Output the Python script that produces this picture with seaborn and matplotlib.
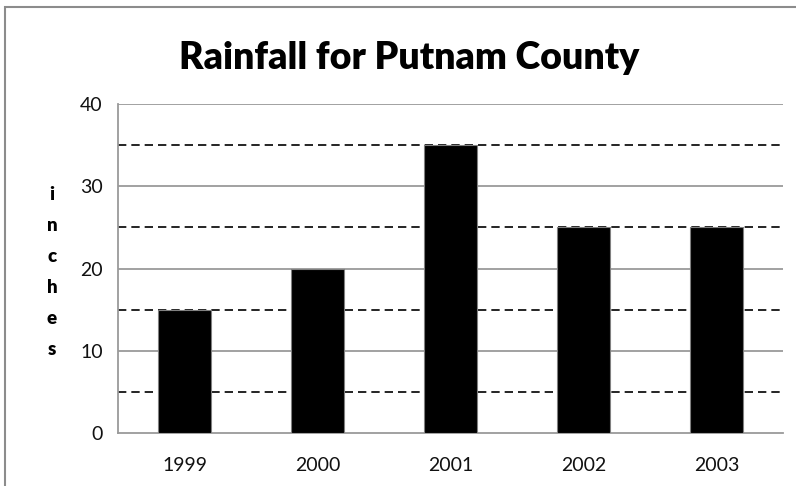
import matplotlib
matplotlib.use("Agg")
import matplotlib.pyplot as plt
import seaborn as sns
import pandas as pd
from matplotlib.patches import Rectangle

years = ["1999", "2000", "2001", "2002", "2003"]
rainfall = [15, 20, 35, 25, 25]
y_major = [0, 10, 20, 30, 40]
y_minor = [5, 15, 25, 35]
title = "Rainfall for Putnam County"
ylabel = "inches"

sns.set_style("white")
plt.rcParams['font.family'] = ['Lato', 'DejaVu Sans']

df = pd.DataFrame({"year": years, "rain": rainfall})

fig = plt.figure(figsize=(7.96, 4.86), dpi=100)
ax = fig.add_axes([118/796, 1-433/486, (783-118)/796, (433-104)/486])

sns.barplot(data=df, x="year", y="rain", color="black", width=0.4,
            edgecolor="#808080", linewidth=0.8, saturation=1, ax=ax, zorder=3)

ax.set_xlim(-0.5, len(years)-0.5)
ax.set_ylim(0, 40)

grid_c = "#9a9a9a"
for v in y_major[1:]:
    ax.axhline(v, color=grid_c, lw=1.3, zorder=1)
for v in y_minor:
    ax.axhline(v, color="black", lw=1.2, ls=(0, (5, 3)), zorder=1)

for s in ["top", "right"]:
    ax.spines[s].set_visible(False)
for s in ["left", "bottom"]:
    ax.spines[s].set_color(grid_c)
    ax.spines[s].set_linewidth(1.3)

ax.set_yticks(y_major)
ax.set_yticks(y_minor, minor=True)
ax.tick_params(axis="y", which="major", direction="out", length=6, width=1.2,
               color=grid_c, labelsize=14, pad=5, labelcolor="#111111")
ax.tick_params(axis="y", which="minor", direction="in", length=4, width=1.2,
               color=grid_c)

bounds = [i - 0.5 for i in range(len(years)+1)]
ax.set_xticks(bounds)
ax.set_xticklabels([])
ax.set_xticks(range(len(years)), minor=True)
ax.set_xticklabels(years, minor=True)
ax.tick_params(axis="x", which="major", direction="out", length=6, width=1.2, color=grid_c)
ax.tick_params(axis="x", which="minor", length=0, labelsize=14, pad=17, labelcolor="#111111")
ax.set_xlabel("")
ax.set_ylabel("")

fig.text(409/796, 1-58/486, title, ha="center", va="center",
         fontsize=27, fontweight="heavy", color="black")
fig.text(52/796, 1-272/486, "\n".join(ylabel), ha="center", va="center",
         fontsize=13.5, fontweight="heavy", linespacing=2.0, color="black")

fig.patches.append(Rectangle((5/796, -0.1), 1.2, 1.1 - 7/486 + 0.0,
                             transform=fig.transFigure, fill=False,
                             edgecolor="#8c8c8c", lw=1.5))

fig.savefig("out.png", dpi=100)
